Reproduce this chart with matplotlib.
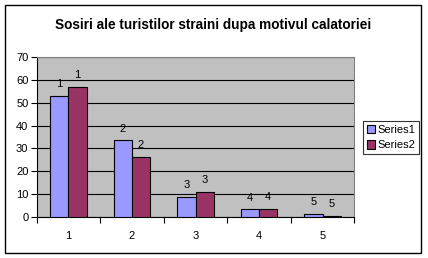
import numpy as np
import matplotlib.pyplot as plt
from matplotlib.patches import Rectangle

plt.rcParams['font.family'] = ['Liberation Sans', 'DejaVu Sans']

categories = ['1', '2', '3', '4', '5']
series1 = [53, 33.5, 8.6, 3.3, 1.3]
series2 = [57, 26.4, 11.1, 3.6, 0.3]
labels1 = ['1', '2', '3', '4', '5']
labels2 = ['1', '2', '3', '4', '5']

fig = plt.figure(figsize=(4.28, 2.58), dpi=100)
fig.patches.append(Rectangle((4.5 / 428, 1 - 252.5 / 258), 416.5 / 428, 248 / 258,
                             transform=fig.transFigure, fill=False, edgecolor='black', lw=1))

ax = fig.add_axes([36.7 / 428, 1 - 217 / 258, 317.6 / 428, 160 / 258])
ax.set_facecolor('#C0C0C0')

x = np.arange(len(categories))
w = 0.285
b1 = ax.bar(x - w / 2, series1, w, color='#9999FF', edgecolor='black', lw=0.8, zorder=3)
b2 = ax.bar(x + w / 2, series2, w, color='#993366', edgecolor='black', lw=0.8, zorder=3)

for rect, lab in zip(b1, labels1):
    ax.text(rect.get_x() + rect.get_width() / 2, rect.get_height() + 3, lab,
            ha='center', va='bottom', fontsize=8)
for rect, lab in zip(b2, labels2):
    ax.text(rect.get_x() + rect.get_width() / 2, rect.get_height() + 3, lab,
            ha='center', va='bottom', fontsize=8)

ax.set_xlim(-0.5, len(categories) - 0.5)
ax.set_ylim(0, 70)
ax.set_yticks(range(0, 71, 10))
ax.yaxis.grid(True, color='black', lw=0.8, zorder=1)
ax.set_axisbelow(True)

ax.set_xticks(x)
ax.set_xticklabels(categories, fontsize=8)
ax.set_xticks(np.arange(-0.5, len(categories)), minor=True)
ax.tick_params(axis='x', which='major', length=0, pad=10)
ax.tick_params(axis='x', which='minor', length=4, direction='out', width=0.8)
ax.tick_params(axis='y', length=4, direction='out', width=0.8, labelsize=8, pad=2)

for s in ['top', 'right']:
    ax.spines[s].set_color('#808080')
for s in ['left', 'bottom']:
    ax.spines[s].set_color('black')
for s in ax.spines.values():
    s.set_linewidth(0.8)

fig.text(213.5 / 428, 1 - 25 / 258, 'Sosiri ale turistilor straini dupa motivul calatoriei',
         ha='center', va='center', fontsize=9.8, fontweight='bold')

leg = fig.legend([b1, b2], ['Series1', 'Series2'], loc='center',
                 bbox_to_anchor=(391 / 428, 1 - 137.5 / 258), fontsize=8,
                 frameon=True, fancybox=False, edgecolor='black',
                 handlelength=0.8, handleheight=0.8, handletextpad=0.2,
                 borderpad=0.3, labelspacing=0.5, borderaxespad=0)
leg.get_frame().set_linewidth(0.8)

fig.savefig('out.png', dpi=100)
